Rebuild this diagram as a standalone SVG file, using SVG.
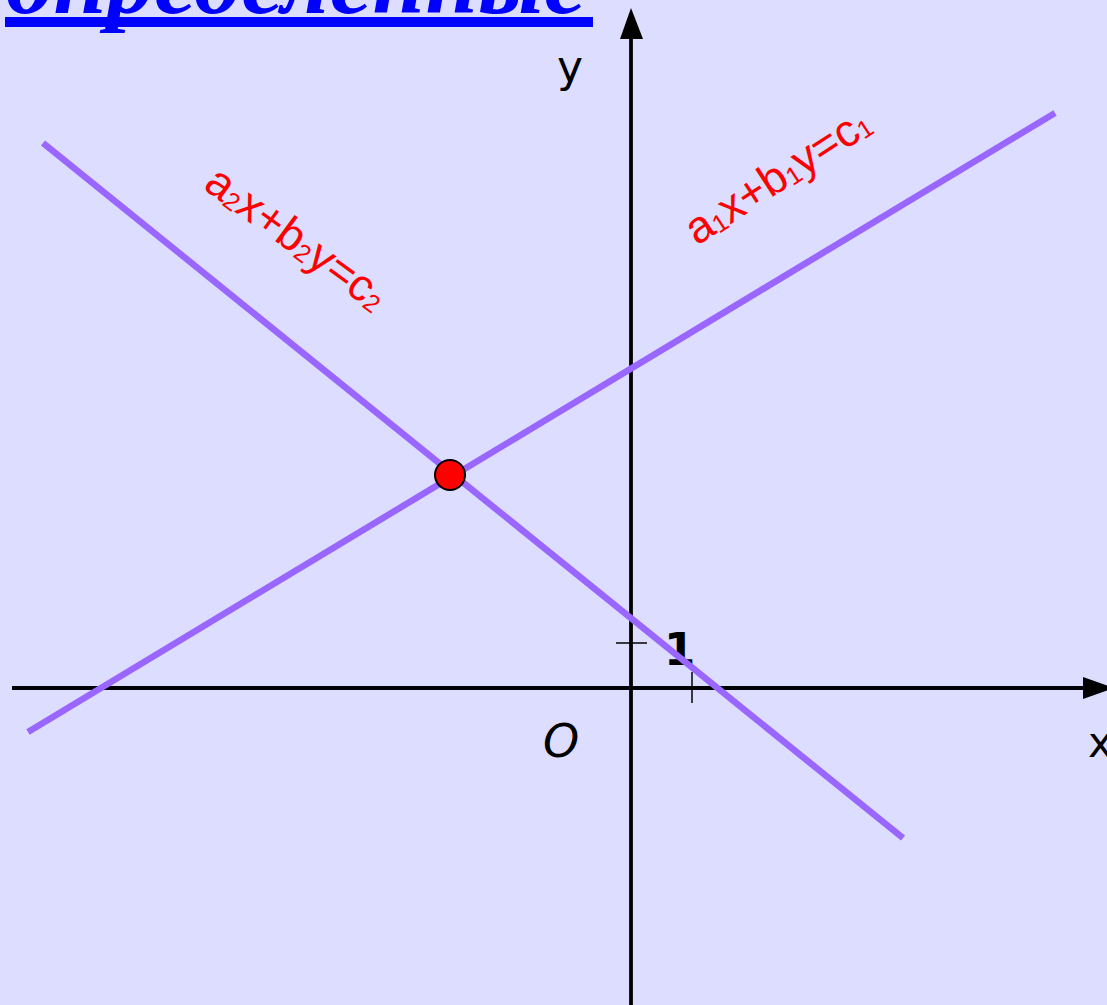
<svg xmlns="http://www.w3.org/2000/svg" width="1107" height="1005" viewBox="0 0 1107 1005">
<style>
.axis{stroke:#000;stroke-width:3.8;fill:none}
.tick{stroke:#000;stroke-width:1.5}
.line{stroke:#9966FF;stroke-width:6.5;fill:none}
.lbl{font-family:"Liberation Sans",Arial,sans-serif;font-size:45px;fill:#FF0000}
.sub{font-size:25px}
.ax{font-family:"DejaVu Sans",sans-serif;fill:#000}
.title{font-family:"Liberation Serif","Times New Roman",serif;font-weight:bold;font-style:italic;font-size:96px;fill:#0000FF}
</style>
<rect width="1107" height="1005" fill="#DDDDFF"/>
<g id="title">
<text class="title" x="6" y="13" textLength="580" lengthAdjust="spacingAndGlyphs">определенные</text>
<rect x="5" y="17" width="588" height="10" fill="#0000FF"/>
</g>
<g id="axes">
<line class="axis" x1="12" y1="688" x2="1086" y2="688"/>
<polygon points="1083,677 1114,688 1083,699" fill="#000"/>
<line class="axis" x1="631" y1="1005" x2="631" y2="36"/>
<polygon points="620,39 631,8 643,39" fill="#000"/>
<line class="tick" x1="616" y1="643" x2="647" y2="643"/>
<line class="tick" x1="692" y1="672" x2="692" y2="703"/>
<text class="ax" x="557" y="82" font-size="44">y</text>
<text class="ax" x="543" y="757" font-size="46" font-style="italic">O</text>
<text class="ax" x="664" y="665" font-size="45" font-weight="bold">1</text>
<text class="ax" x="1088" y="757" font-size="42">x</text>
</g>
<g id="connectors">
<line id="line1" class="line" x1="28" y1="732" x2="1055" y2="113"/>
<line id="line2" class="line" x1="43" y1="143" x2="903" y2="838"/>
</g>
<g id="label2">
<text class="lbl" transform="translate(202,188) rotate(36)">a<tspan class="sub" dy="2">2</tspan><tspan dy="-2">x+b</tspan><tspan class="sub" dy="2">2</tspan><tspan dy="-2">y=c</tspan><tspan class="sub" dy="2">2</tspan></text>
</g>
<g id="label1">
<text class="lbl" transform="translate(697,246) rotate(-33)">a<tspan class="sub" dy="2">1</tspan><tspan dy="-2">x+b</tspan><tspan class="sub" dy="2">1</tspan><tspan dy="-2">y=c</tspan><tspan class="sub" dy="2">1</tspan></text>
</g>
<g id="point">
<circle cx="450" cy="475" r="15" fill="#FF0000" stroke="#000" stroke-width="2"/>
</g>
</svg>
